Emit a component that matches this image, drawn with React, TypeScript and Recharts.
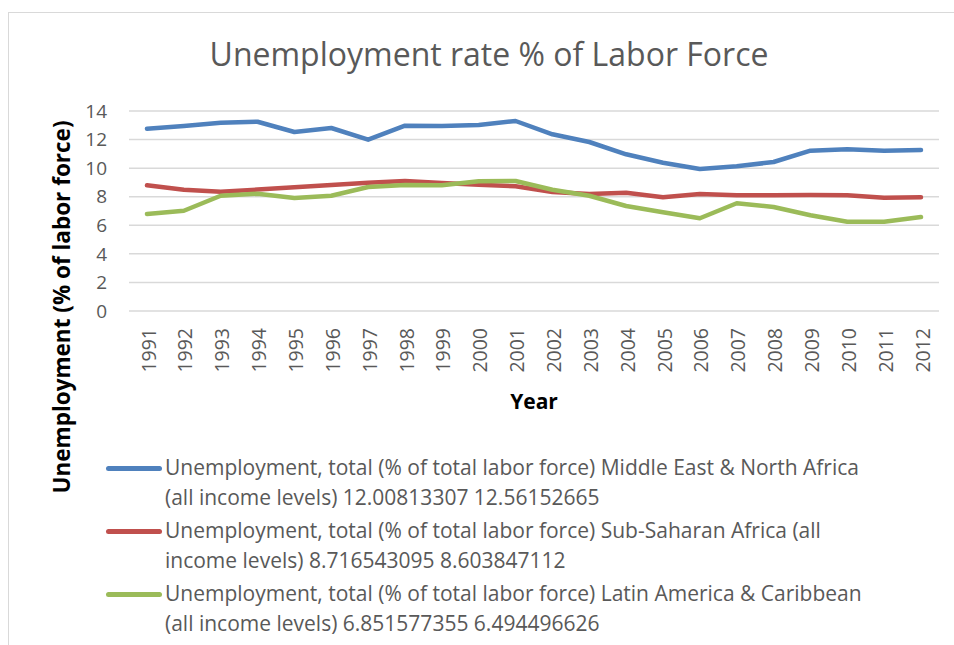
import { LineChart, Line, XAxis, YAxis, CartesianGrid } from "recharts";

const years = [
  "1991", "1992", "1993", "1994", "1995", "1996", "1997", "1998", "1999", "2000", "2001",
  "2002", "2003", "2004", "2005", "2006", "2007", "2008", "2009", "2010", "2011", "2012",
];

const menaValues = [
  12.76, 12.95, 13.18, 13.25, 12.53, 12.81, 11.99, 12.97, 12.95, 13.02, 13.3,
  12.37, 11.83, 10.97, 10.38, 9.94, 10.13, 10.43, 11.22, 11.32, 11.22, 11.27,
];

const ssaValues = [
  8.8, 8.49, 8.35, 8.5, 8.66, 8.82, 8.98, 9.1, 8.96, 8.84, 8.73,
  8.33, 8.19, 8.28, 7.96, 8.19, 8.1, 8.1, 8.12, 8.1, 7.93, 7.96,
];

const lacValues = [
  6.79, 7.02, 8.07, 8.21, 7.91, 8.07, 8.68, 8.82, 8.8, 9.08, 9.1,
  8.49, 8.07, 7.35, 6.91, 6.49, 7.54, 7.28, 6.7, 6.25, 6.25, 6.58,
];

const yTicks = [0, 2, 4, 6, 8, 10, 12, 14];

const series = [
  {
    key: "mena",
    color: "#4f81bd",
    name: "Unemployment, total (% of total labor force) Middle East & North Africa (all income levels) 12.00813307 12.56152665",
  },
  {
    key: "ssa",
    color: "#c0504d",
    name: "Unemployment, total (% of total labor force) Sub-Saharan Africa (all income levels) 8.716543095 8.603847112",
  },
  {
    key: "lac",
    color: "#9bbb59",
    name: "Unemployment, total (% of total labor force) Latin America & Caribbean (all income levels) 6.851577355 6.494496626",
  },
];

const data = years.map((year, i) => ({
  year,
  mena: menaValues[i],
  ssa: ssaValues[i],
  lac: lacValues[i],
}));

const font = "'Open Sans', sans-serif";
const textGray = "#595959";

function YearTick(props: any) {
  const { x, y, payload } = props;
  return (
    <text
      transform={`translate(${x + 1},${y + 17}) rotate(-90)`}
      textAnchor="end"
      dominantBaseline="central"
      fill={textGray}
      fontSize={19.5}
      fontFamily={font}
    >
      {payload.value}
    </text>
  );
}

export default function App() {
  return (
    <div style={{ position: "absolute", left: 0, top: 0, width: 954, height: 645, background: "#fff", overflow: "hidden", fontFamily: font }}>
      <div style={{ position: "absolute", left: 8, top: 12, width: 980, height: 700, border: "1.5px solid #d9d9d9" }} />
      <div style={{ position: "absolute", left: 0, width: 978, top: 32, textAlign: "center", fontSize: 32, color: textGray }}>
        Unemployment rate % of Labor Force
      </div>
      <div style={{ position: "absolute", left: 61, top: 307, width: 0, height: 0 }}>
        <div style={{ position: "absolute", transform: "translate(-50%,-50%) rotate(-90deg)", whiteSpace: "nowrap", fontWeight: "bold", fontSize: 22.5, color: "#000" }}>
          Unemployment (% of labor force)
        </div>
      </div>
      <div style={{ position: "absolute", left: 534, top: 401, width: 0, height: 0 }}>
        <div style={{ position: "absolute", transform: "translate(-50%,-50%)", whiteSpace: "nowrap", fontWeight: "bold", fontSize: 21, color: "#000" }}>
          Year
        </div>
      </div>
      <div style={{ position: "absolute", left: 0, top: 0 }}>
        <LineChart width={954} height={645} data={data} margin={{ top: 111, right: 15, bottom: 274, left: 0 }}>
          <CartesianGrid vertical={false} stroke="#d9d9d9" strokeWidth={1.5} />
          <XAxis
            dataKey="year"
            axisLine={false}
            tickLine={false}
            tickSize={0}
            tickMargin={0}
            height={60}
            interval={0}
            padding={{ left: 18, right: 18 }}
            tick={<YearTick />}
          />
          <YAxis
            domain={[0, 14]}
            ticks={yTicks}
            width={129}
            axisLine={false}
            tickLine={false}
            tickSize={0}
            tickMargin={22}
            tick={{ fill: textGray, fontSize: 19, fontFamily: font }}
          />
          {series.map((s) => (
            <Line
              key={s.key}
              dataKey={s.key}
              stroke={s.color}
              strokeWidth={4.5}
              strokeLinejoin="round"
              strokeLinecap="round"
              dot={false}
              isAnimationActive={false}
            />
          ))}
        </LineChart>
      </div>
      <div style={{ position: "absolute", left: 106, top: 452 }}>
        {series.map((s) => (
          <div key={s.key} style={{ display: "flex", alignItems: "flex-start", marginBottom: 3 }}>
            <div style={{ width: 56, height: 4.5, borderRadius: 3, background: s.color, marginTop: 14, flex: "none" }} />
            <div style={{ width: 705, fontSize: 21, lineHeight: "30px", color: textGray, paddingLeft: 3 }}>{s.name}</div>
          </div>
        ))}
      </div>
    </div>
  );
}
